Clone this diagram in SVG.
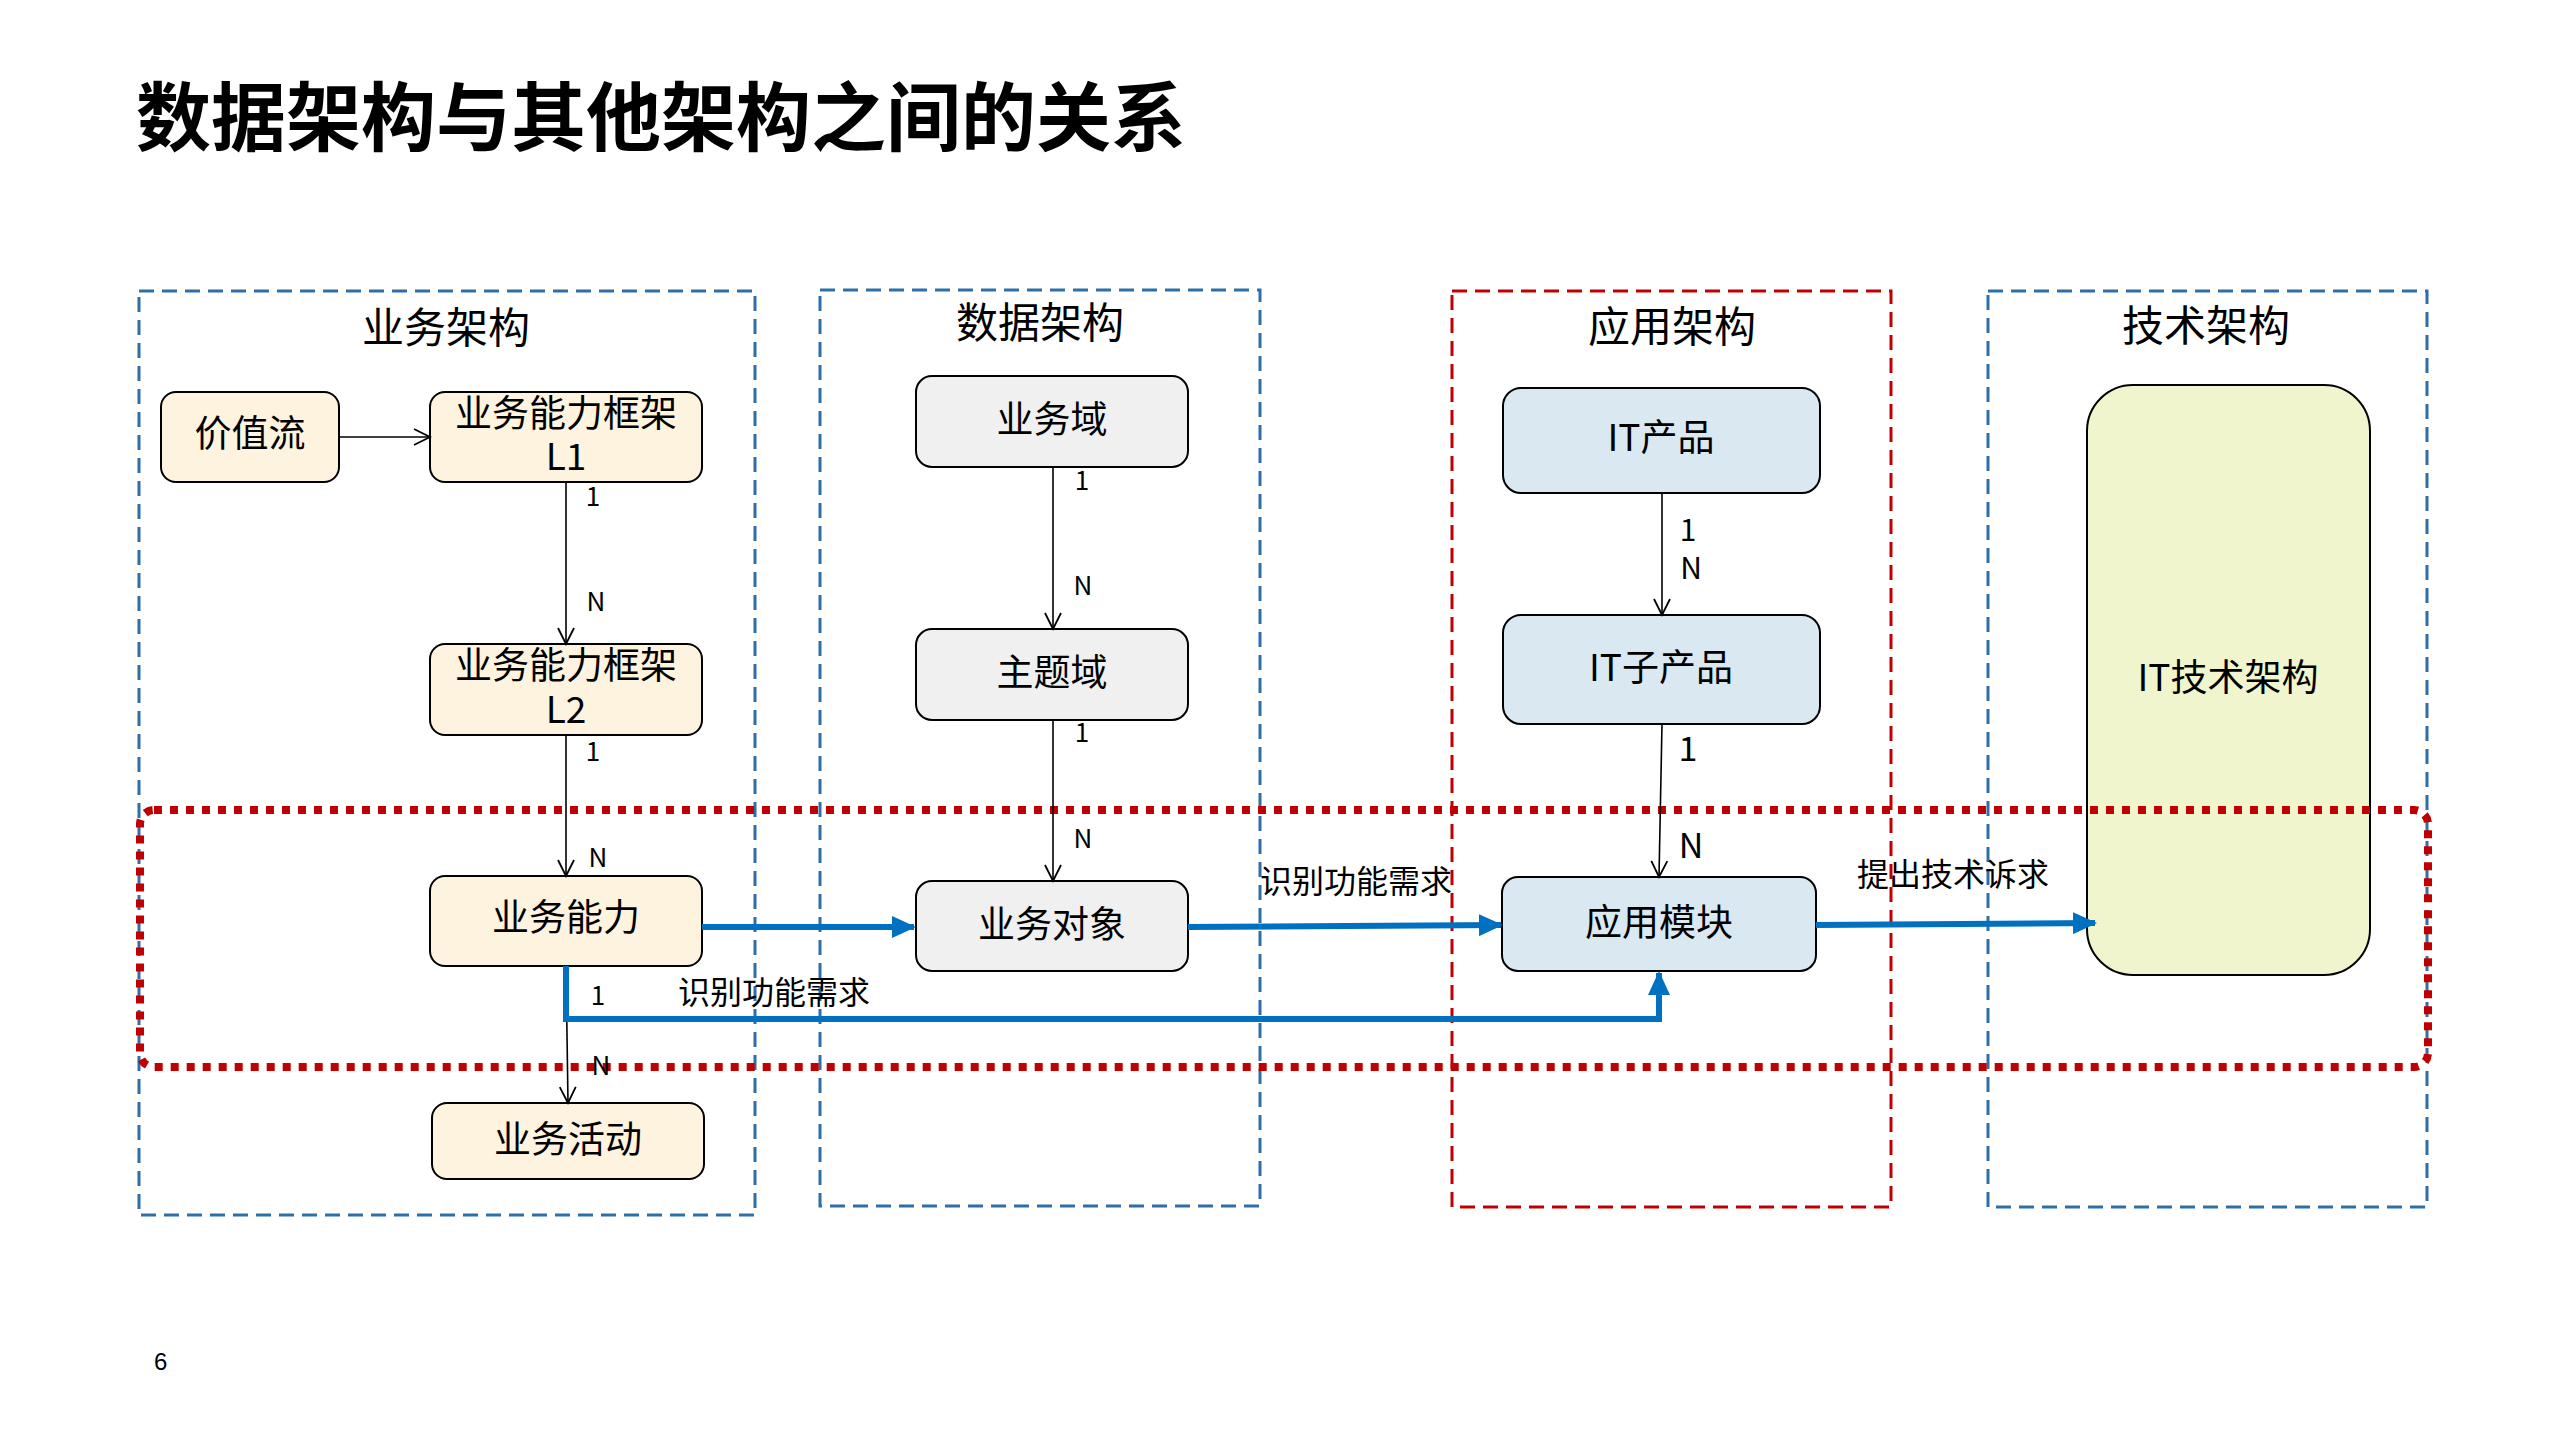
<svg xmlns="http://www.w3.org/2000/svg" width="2560" height="1440" viewBox="0 0 2560 1440">
<defs>
<style>
text{font-family:"Noto Sans CJK SC","Noto Sans",sans-serif;fill:#000}
.title{font-size:75px;font-weight:bold}
.h{font-size:42px;text-anchor:middle}
.t{font-size:37px;text-anchor:middle}
.lab{font-size:32px}
.m{font-size:26px;text-anchor:middle}
.frame{fill:none;stroke-width:3;stroke-dasharray:15 8}
.blue{stroke:#2E6FA8}
.red{stroke:#C00000}
.node{stroke:#000;stroke-width:2}
.biz{fill:#FEF3DF}
.data{fill:#F0F0F0}
.app{fill:#DAE8F2}
.tech{fill:#F1F5CD}
.thin{fill:none;stroke:#000;stroke-width:1.6}
.bl{fill:none;stroke:#0070C0;stroke-width:6}
</style>
<marker id="open" markerUnits="userSpaceOnUse" markerWidth="20" markerHeight="20" viewBox="0 0 20 20" refX="18" refY="10" orient="auto">
<path d="M2,2 L18,10 L2,18" fill="none" stroke="#000" stroke-width="1.8"/>
</marker>
<marker id="fill" markerUnits="userSpaceOnUse" markerWidth="24" markerHeight="22" viewBox="0 0 24 22" refX="22" refY="11" orient="auto">
<path d="M0,0 L24,11 L0,22 Z" fill="#0070C0"/>
</marker>
</defs>
<rect width="2560" height="1440" fill="#fff"/>
<text class="title" x="136" y="145">数据架构与其他架构之间的关系</text>

<g id="frames">
<rect class="frame blue" x="139" y="291" width="616" height="924"/>
<rect class="frame blue" x="820" y="290" width="440" height="916"/>
<rect class="frame red" x="1452" y="291" width="439" height="916"/>
<rect class="frame blue" x="1988" y="291" width="439" height="916"/>
<text class="h" x="446" y="343">业务架构</text>
<text class="h" x="1040" y="338">数据架构</text>
<text class="h" x="1672" y="342">应用架构</text>
<text class="h" x="2206" y="341">技术架构</text>
</g>

<g id="n-value"><rect class="node biz" x="161" y="392" width="178" height="90" rx="15"/><text class="t" x="250" y="447">价值流</text></g>
<g id="n-l1"><rect class="node biz" x="430" y="392" width="272" height="90" rx="15"/><text class="t" x="566" y="427">业务能力框架<tspan x="566" dy="43">L1</tspan></text></g>
<g id="n-l2"><rect class="node biz" x="430" y="644" width="272" height="91" rx="15"/><text class="t" x="566" y="679">业务能力框架<tspan x="566" dy="44">L2</tspan></text></g>
<g id="n-cap"><rect class="node biz" x="430" y="876" width="272" height="90" rx="15"/><text class="t" x="566" y="931">业务能力</text></g>
<g id="n-act"><rect class="node biz" x="432" y="1103" width="272" height="76" rx="15"/><text class="t" x="568" y="1153">业务活动</text></g>

<g id="n-domain"><rect class="node data" x="916" y="376" width="272" height="91" rx="16"/><text class="t" x="1052" y="433">业务域</text></g>
<g id="n-subject"><rect class="node data" x="916" y="629" width="272" height="91" rx="16"/><text class="t" x="1052" y="686">主题域</text></g>
<g id="n-object"><rect class="node data" x="916" y="881" width="272" height="90" rx="16"/><text class="t" x="1052" y="938">业务对象</text></g>

<g id="n-itp"><rect class="node app" x="1503" y="388" width="317" height="105" rx="18"/><text class="t" x="1661" y="451">IT产品</text></g>
<g id="n-itsub"><rect class="node app" x="1503" y="615" width="317" height="109" rx="18"/><text class="t" x="1661" y="681">IT子产品</text></g>
<g id="n-mod"><rect class="node app" x="1502" y="877" width="314" height="94" rx="16"/><text class="t" x="1659" y="936">应用模块</text></g>

<g id="n-tech"><rect class="node tech" x="2087" y="385" width="283" height="590" rx="46"/><text class="t" x="2228" y="691">IT技术架构</text></g>

<rect id="scope" x="140" y="810" width="2288" height="257" rx="14" fill="none" stroke="#C00000" stroke-width="8" stroke-dasharray="8 8"/>

<g id="connectors">
<line class="thin" x1="339" y1="437" x2="430" y2="437" marker-end="url(#open)"/>
<line class="thin" x1="566" y1="482" x2="566" y2="644" marker-end="url(#open)"/>
<line class="thin" x1="566" y1="735" x2="566" y2="876" marker-end="url(#open)"/>
<line class="thin" x1="566" y1="966" x2="568" y2="1103" marker-end="url(#open)"/>
<line class="thin" x1="1053" y1="467" x2="1053" y2="629" marker-end="url(#open)"/>
<line class="thin" x1="1053" y1="720" x2="1053" y2="881" marker-end="url(#open)"/>
<line class="thin" x1="1662" y1="493" x2="1662" y2="615" marker-end="url(#open)"/>
<line class="thin" x1="1662" y1="724" x2="1659" y2="877" marker-end="url(#open)"/>
<line class="bl" x1="702" y1="927" x2="914" y2="927" marker-end="url(#fill)"/>
<line class="bl" x1="1188" y1="927" x2="1501" y2="925" marker-end="url(#fill)"/>
<line class="bl" x1="1816" y1="925" x2="2095" y2="923" marker-end="url(#fill)"/>
<path class="bl" d="M566,966 L566,1019 L1659,1019 L1659,973" stroke-linejoin="miter" marker-end="url(#fill)"/>
<text class="m" x="593" y="506">1</text>
<text class="m" x="596" y="611">N</text>
<text class="m" x="593" y="761">1</text>
<text class="m" x="598" y="867">N</text>
<text class="m" x="598" y="1005">1</text>
<text class="m" x="601" y="1075">N</text>
<text class="m" x="1082" y="490">1</text>
<text class="m" x="1083" y="595">N</text>
<text class="m" x="1082" y="742">1</text>
<text class="m" x="1083" y="848">N</text>
<text class="m" x="1688" y="541" style="font-size:30px">1<tspan x="1691" dy="38">N</tspan></text>
<text class="m" x="1688" y="761" style="font-size:34px">1</text>
<text class="m" x="1691" y="858" style="font-size:34px">N</text>
<text class="lab" x="678" y="1004">识别功能需求</text>
<text class="lab" x="1260" y="893">识别功能需求</text>
<text class="lab" x="1857" y="886">提出技术诉求</text>
</g>
<text x="154" y="1370" style="font-family:'Liberation Sans',Arial,sans-serif;font-size:24px">6</text>
</svg>
